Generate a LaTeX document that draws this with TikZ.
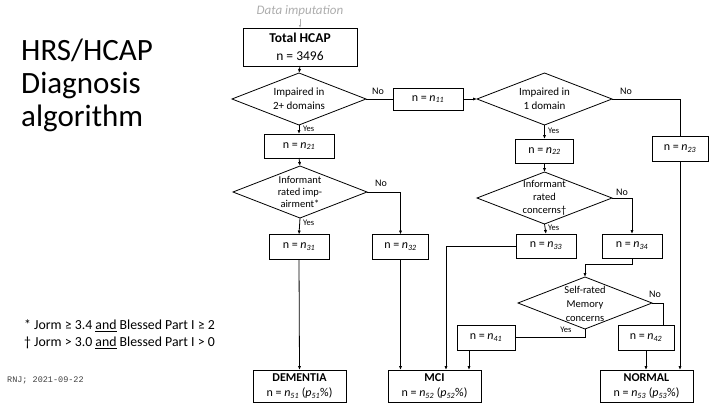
\documentclass[tikz,border=0pt]{standalone}
\usepackage{fontspec}
\setmainfont{Carlito}
\setmonofont{Liberation Mono}
\usetikzlibrary{shapes.geometric,arrows.meta}
\newcommand{\nsub}[1]{\textit{n\textsubscript{#1}}}
\newcommand{\psub}[1]{\textit{p\textsubscript{#1}}}
\definecolor{lgray}{gray}{0.68}
\begin{document}
\begin{tikzpicture}[x=1pt,y=-1pt,
  box/.style={draw, line width=0.8pt, inner sep=0pt, outer sep=0pt, align=center, font=\fontsize{12}{15}\selectfont},
  dia/.style={draw, diamond, line width=0.8pt, inner sep=0pt, outer sep=0pt},
  dtext/.style={align=center, inner sep=0pt},
  arr/.style={-{Latex[length=4pt,width=3.2pt]}, line width=0.8pt},
  ln/.style={line width=0.8pt},
  yeslab/.style={font=\fontsize{8.5}{10}\selectfont, inner sep=0pt},
  nolab/.style={font=\fontsize{10}{12}\selectfont, inner sep=0pt}
]
\useasboundingbox (0,0) rectangle (720,405);

% title
\node[anchor=west, align=left, inner sep=0pt, font=\fontsize{31}{33}\selectfont] (title) at (21,85) {HRS/HCAP\\Diagnosis\\algorithm};

% footnotes
\node[anchor=west, align=left, inner sep=0pt, font=\fontsize{13.8}{17}\selectfont] (foot) at (24,334.5)
  {* Jorm ≥ 3.4 \underline{and} Blessed Part I ≥ 2\\† Jorm > 3.0 \underline{and} Blessed Part I > 0};
\node[anchor=west, inner sep=0pt, font=\ttfamily\fontsize{8.5}{10}\selectfont, text=black!75] (sig) at (7,380) {RNJ; 2021-09-22};

% top
\node[inner sep=0pt, text=lgray, font=\itshape\fontsize{13}{15}\selectfont] (imp) at (300,11) {Data imputation};
\node[box, minimum width=114pt, minimum height=38pt, font=\fontsize{13.5}{18}\selectfont] (tot) at (300,47) {\textbf{Total HCAP}\\n = 3496};

% diamonds
\node[dia, minimum width=134pt, minimum height=52pt] (d1) at (299,99) {};
\node[dtext, font=\fontsize{11}{14}\selectfont] (t1) at (d1.center) {Impaired in\\2+ domains};
\node[dia, minimum width=135pt, minimum height=52pt] (d2) at (544.5,99) {};
\node[dtext, font=\fontsize{11}{14}\selectfont] (t2) at (d2.center) {Impaired in\\1 domain};
\node[dia, minimum width=134pt, minimum height=52pt] (d3) at (300,192) {};
\node[dtext, font=\fontsize{10.5}{12}\selectfont] (t3) at (300,191.5) {Informant\\rated imp-\\airment*};
\node[dia, minimum width=135pt, minimum height=52pt] (d4) at (544.5,198) {};
\node[dtext, font=\fontsize{10.5}{13}\selectfont] (t4) at (544.5,198) {Informant\\rated\\concerns†};
\node[dia, minimum width=134pt, minimum height=52pt] (d5) at (585,303) {};
\node[dtext, font=\fontsize{10.5}{14}\selectfont] (t5) at (585,304) {Self-rated\\Memory\\concerns};

% boxes
\node[box, minimum width=70pt, minimum height=22pt] (n11) at (428,99) {n = \nsub{11}};
\node[box, minimum width=70pt, minimum height=24pt] (n21) at (299,146) {n = \nsub{21}};
\node[box, minimum width=58pt, minimum height=24pt] (n22) at (544.5,151) {n = \nsub{22}};
\node[box, minimum width=56pt, minimum height=25pt] (n23) at (680,148.5) {n = \nsub{23}};
\node[box, minimum width=60pt, minimum height=25pt] (n31) at (299,247) {n = \nsub{31}};
\node[box, minimum width=56pt, minimum height=25pt] (n32) at (400.5,247) {n = \nsub{32}};
\node[box, minimum width=60pt, minimum height=24pt] (n33) at (546,246) {n = \nsub{33}};
\node[box, minimum width=60pt, minimum height=24pt] (n34) at (632,246) {n = \nsub{34}};
\node[box, minimum width=58pt, minimum height=25pt] (n41) at (486,337.5) {n = \nsub{41}};
\node[box, minimum width=56pt, minimum height=25pt] (n42) at (646,337.5) {n = \nsub{42}};

\node[box, minimum width=93pt, minimum height=32pt] (dem) at (299.5,386) {\textbf{DEMENTIA}\\n = \nsub{51} (\psub{51}\%)};
\node[box, minimum width=93pt, minimum height=32pt] (mci) at (434.5,386) {\textbf{MCI}\\n = \nsub{52} (\psub{52}\%)};
\node[box, minimum width=93pt, minimum height=32pt] (nor) at (646.5,386) {\textbf{NORMAL}\\n = \nsub{53} (\psub{53}\%)};

% connectors
\draw[-{Latex[length=3pt,width=2.5pt]}, lgray, line width=0.6pt] (imp.south) ++(0,2) -- (tot.north);
\draw[arr] (tot.south) -- (d1.north);
\draw[arr] (d1.south) -- (n21.north);
\node[yeslab, anchor=west] (y1) at (303,129) {Yes};
\draw[ln] (d1.east) -- (n11.west);
\node[nolab] (no1) at (378,91) {No};
\draw[arr] (n11.east) -- (d2.west);
\draw[ln] (d2.east) -- (n23.north |- d2.east) -- (n23.north);
\node[nolab] (no2) at (626,91) {No};
\draw[arr] (n23.south) -- (n23.south |- nor.north);
\draw[arr] (d2.south) -- (n22.north);
\node[yeslab, anchor=west] (y2) at (548,131) {Yes};
\draw[arr] (n22.south) -- (d4.north);

\draw[arr] (n21.south) -- (d3.north);
\draw[arr] (d3.east) -- (n32.north |- d3.east) -- (n32.north);
\node[nolab] (no3) at (381,183) {No};
\draw[arr] (d3.south) -- (n31.north);
\node[yeslab, anchor=west] (y3) at (303,223) {Yes};
\draw[arr] (n31.south) -- (dem.north);
\draw[arr] (n32.south) -- (n32.south |- mci.north);

\draw[arr] (d4.east) -- (n34.north |- d4.east) -- (n34.north);
\node[nolab] (no4) at (622,192) {No};
\draw[arr] (d4.south) -- (n33.north);
\node[yeslab, anchor=west] (y4) at (548,228) {Yes};
\coordinate (c33) at (446,246);
\draw[arr] (n33.west) -- (c33) -- (c33 |- mci.north);
\coordinate (c34) at (632,264);
\draw[arr] (n34.south) -- (c34) -- (c34 -| d5.north) -- (d5.north);

\coordinate (c5e) at (663,303);
\draw[ln] (d5.east) -- (c5e) -- (c5e |- n42.north);
\node[nolab] (no5) at (655,294) {No};
\coordinate (c5s) at (585,337.5);
\draw[ln] (d5.south) -- (c5s) -- (n41.east);
\node[yeslab] (y5) at (566,330) {Yes};
\coordinate (c41) at (469,350);
\draw[arr] (c41) -- (c41 |- mci.north);
\draw[arr] (n42.south) -- (n42.south |- nor.north);
\end{tikzpicture}
\end{document}
